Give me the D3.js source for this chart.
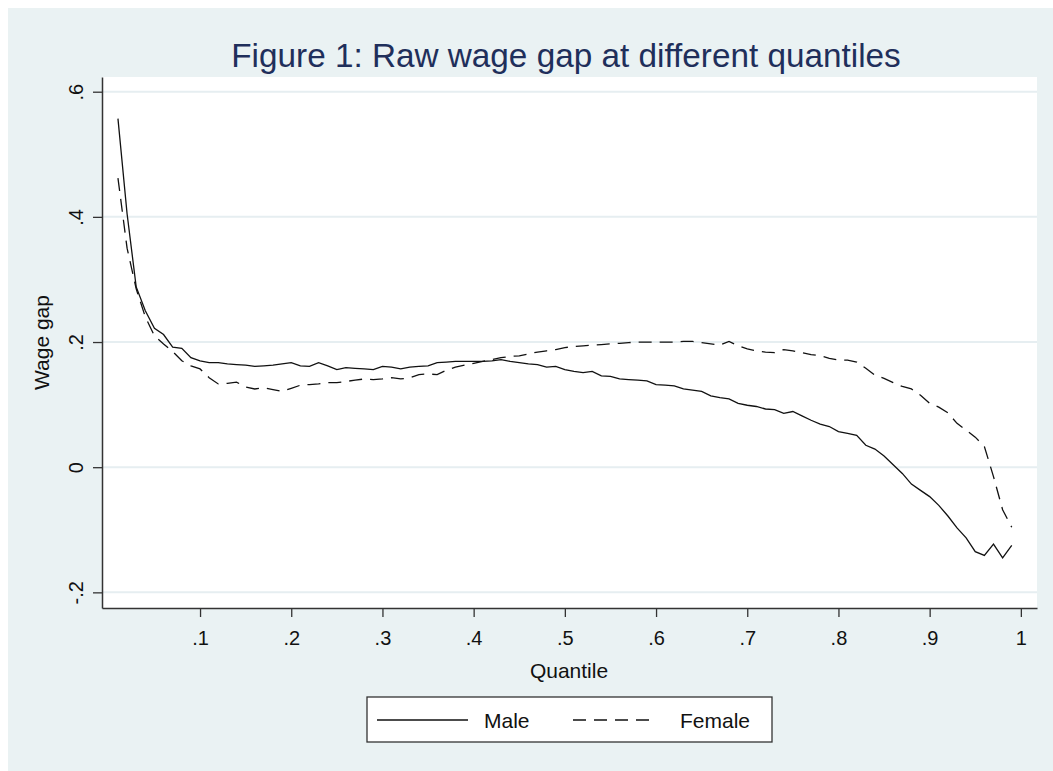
<!DOCTYPE html>
<html>
<head>
<meta charset="utf-8">
<script src="https://cdn.jsdelivr.net/npm/d3@7"></script>
<style>
  body { margin: 0; background: #fff; }
  text { font-family: "Liberation Sans", Arial, sans-serif; }
</style>
</head>
<body>
<div class="canva"></div>
<script>
// quantiles .01 .. .99
const quantiles = d3.range(1, 100).map(i => i / 100);

const male = [
  0.557, 0.405, 0.288, 0.250, 0.222, 0.212, 0.192, 0.190, 0.175, 0.170,
  0.167, 0.167, 0.165, 0.164, 0.163, 0.161, 0.162, 0.163, 0.165, 0.167,
  0.162, 0.161, 0.167, 0.162, 0.156, 0.159, 0.158, 0.157, 0.156, 0.161,
  0.160, 0.157, 0.160, 0.161, 0.162, 0.167, 0.168, 0.169, 0.169, 0.169,
  0.169, 0.170, 0.172, 0.169, 0.167, 0.165, 0.164, 0.160, 0.161, 0.156,
  0.153, 0.151, 0.153, 0.146, 0.145, 0.141, 0.140, 0.139, 0.138, 0.132,
  0.131, 0.130, 0.125, 0.123, 0.121, 0.114, 0.111, 0.109, 0.102, 0.099,
  0.097, 0.093, 0.092, 0.086, 0.089, 0.082, 0.075, 0.069, 0.065, 0.057,
  0.054, 0.051, 0.035, 0.029, 0.018, 0.004, -0.010, -0.027, -0.037, -0.047,
  -0.061, -0.078, -0.097, -0.113, -0.135, -0.141, -0.123, -0.145, -0.125
];

const female = [
  0.462, 0.350, 0.285, 0.240, 0.210, 0.197, 0.185, 0.170, 0.162, 0.157,
  0.143, 0.133, 0.134, 0.136, 0.128, 0.125, 0.127, 0.124, 0.121, 0.126,
  0.131, 0.132, 0.133, 0.135, 0.135, 0.137, 0.139, 0.141, 0.140, 0.141,
  0.143, 0.141, 0.143, 0.148, 0.149, 0.148, 0.155, 0.160, 0.163, 0.166,
  0.169, 0.172, 0.175, 0.177, 0.178, 0.181, 0.184, 0.186, 0.188, 0.191,
  0.193, 0.194, 0.195, 0.196, 0.197, 0.198, 0.199, 0.200, 0.200, 0.200,
  0.200, 0.200, 0.201, 0.201, 0.199, 0.197, 0.195, 0.201, 0.194, 0.189,
  0.186, 0.184, 0.183, 0.188, 0.186, 0.183, 0.180, 0.178, 0.174, 0.171,
  0.171, 0.168, 0.158, 0.147, 0.142, 0.135, 0.129, 0.125, 0.115, 0.102,
  0.096, 0.087, 0.070, 0.059, 0.048, 0.033, -0.015, -0.068, -0.096
];

const xTicks = [0.1, 0.2, 0.3, 0.4, 0.5, 0.6, 0.7, 0.8, 0.9, 1];
const xTickLabels = ['.1', '.2', '.3', '.4', '.5', '.6', '.7', '.8', '.9', '1'];
const yTicks = [-0.2, 0, 0.2, 0.4, 0.6];
const yTickLabels = ['-.2', '0', '.2', '.4', '.6'];

const W = 1053, H = 771;
const pLeft = 102, pRight = 1037, pTop = 77, pBottom = 608;

const svg = d3.select('.canva').append('svg')
    .attr('width', W)
    .attr('height', H);

// outer graph region
svg.append('rect')
  .attr('x', 8).attr('y', 8)
  .attr('width', W - 8).attr('height', H - 8)
  .attr('fill', '#eaf2f3');

// plot region
svg.append('rect')
  .attr('x', pLeft).attr('y', pTop)
  .attr('width', pRight - pLeft).attr('height', pBottom - pTop)
  .attr('fill', '#fff');

const x = d3.scaleLinear()
  .domain([-0.0075, 1.0177])
  .range([pLeft, pRight]);

const y = d3.scaleLinear()
  .domain([-0.225, 0.6235])
  .range([pBottom, pTop]);

// gridlines
svg.append('g')
  .selectAll('line')
  .data(yTicks)
  .join('line')
  .attr('x1', pLeft).attr('x2', pRight)
  .attr('y1', d => y(d)).attr('y2', d => y(d))
  .attr('stroke', '#e6eef1')
  .attr('stroke-width', 2);

// x axis
const xAxis = svg.append('g')
  .attr('transform', `translate(0,${pBottom})`)
  .call(d3.axisBottom(x)
    .tickValues(xTicks)
    .tickFormat((d, i) => xTickLabels[i])
    .tickSize(9)
    .tickSizeOuter(0)
    .tickPadding(14));
xAxis.select('.domain').attr('stroke', '#333').attr('stroke-width', 1.5);
xAxis.selectAll('.tick line').attr('stroke', '#333').attr('stroke-width', 1.3);
xAxis.selectAll('.tick text')
  .attr('font-size', 20)
  .attr('fill', '#111')
  .attr('font-family', '"Liberation Sans", Arial, sans-serif');

// y axis
const yAxis = svg.append('g')
  .attr('transform', `translate(${pLeft},0)`)
  .call(d3.axisLeft(y)
    .tickValues(yTicks)
    .tickFormat((d, i) => yTickLabels[i])
    .tickSize(9)
    .tickSizeOuter(0));
yAxis.select('.domain').attr('stroke', '#333').attr('stroke-width', 1.5);
yAxis.selectAll('.tick line').attr('stroke', '#333').attr('stroke-width', 1.3);
yAxis.selectAll('.tick text')
  .attr('font-size', 20)
  .attr('fill', '#111')
  .attr('font-family', '"Liberation Sans", Arial, sans-serif')
  .attr('x', null).attr('dy', null)
  .attr('text-anchor', 'middle')
  .attr('transform', 'translate(-19,0) rotate(-90)');

// lines
const line = d3.line()
  .x((d, i) => x(quantiles[i]))
  .y(d => y(d));

svg.append('path')
  .datum(male)
  .attr('d', line)
  .attr('fill', 'none')
  .attr('stroke', '#111')
  .attr('stroke-width', 1.3);

svg.append('path')
  .datum(female)
  .attr('d', line)
  .attr('fill', 'none')
  .attr('stroke', '#111')
  .attr('stroke-width', 1.3)
  .attr('stroke-dasharray', '13,8');

// title
svg.append('text')
  .attr('x', 566).attr('y', 67)
  .attr('text-anchor', 'middle')
  .attr('font-size', 33.3)
  .attr('fill', '#1f2f5b')
  .text('Figure 1: Raw wage gap at different quantiles');

// axis titles
svg.append('text')
  .attr('x', 569).attr('y', 678)
  .attr('text-anchor', 'middle')
  .attr('font-size', 21)
  .attr('fill', '#111')
  .text('Quantile');

svg.append('text')
  .attr('transform', `translate(49,${(pTop + pBottom) / 2}) rotate(-90)`)
  .attr('text-anchor', 'middle')
  .attr('font-size', 21)
  .attr('fill', '#111')
  .text('Wage gap');

// legend
const legend = svg.append('g');
legend.append('rect')
  .attr('x', 367).attr('y', 697)
  .attr('width', 405).attr('height', 45)
  .attr('fill', '#fff')
  .attr('stroke', '#333')
  .attr('stroke-width', 1.3);

const legendItems = [
  { name: 'Male', dash: null, x0: 377, x1: 468, tx: 484 },
  { name: 'Female', dash: '13,8', x0: 573, x1: 657, tx: 680 }
];

legend.selectAll('line')
  .data(legendItems)
  .join('line')
  .attr('x1', d => d.x0).attr('x2', d => d.x1)
  .attr('y1', 720).attr('y2', 720)
  .attr('stroke', '#111')
  .attr('stroke-width', 1.3)
  .attr('stroke-dasharray', d => d.dash);

legend.selectAll('text')
  .data(legendItems)
  .join('text')
  .attr('x', d => d.tx).attr('y', 728)
  .attr('font-size', 21)
  .attr('fill', '#111')
  .text(d => d.name);
</script>
</body>
</html>
